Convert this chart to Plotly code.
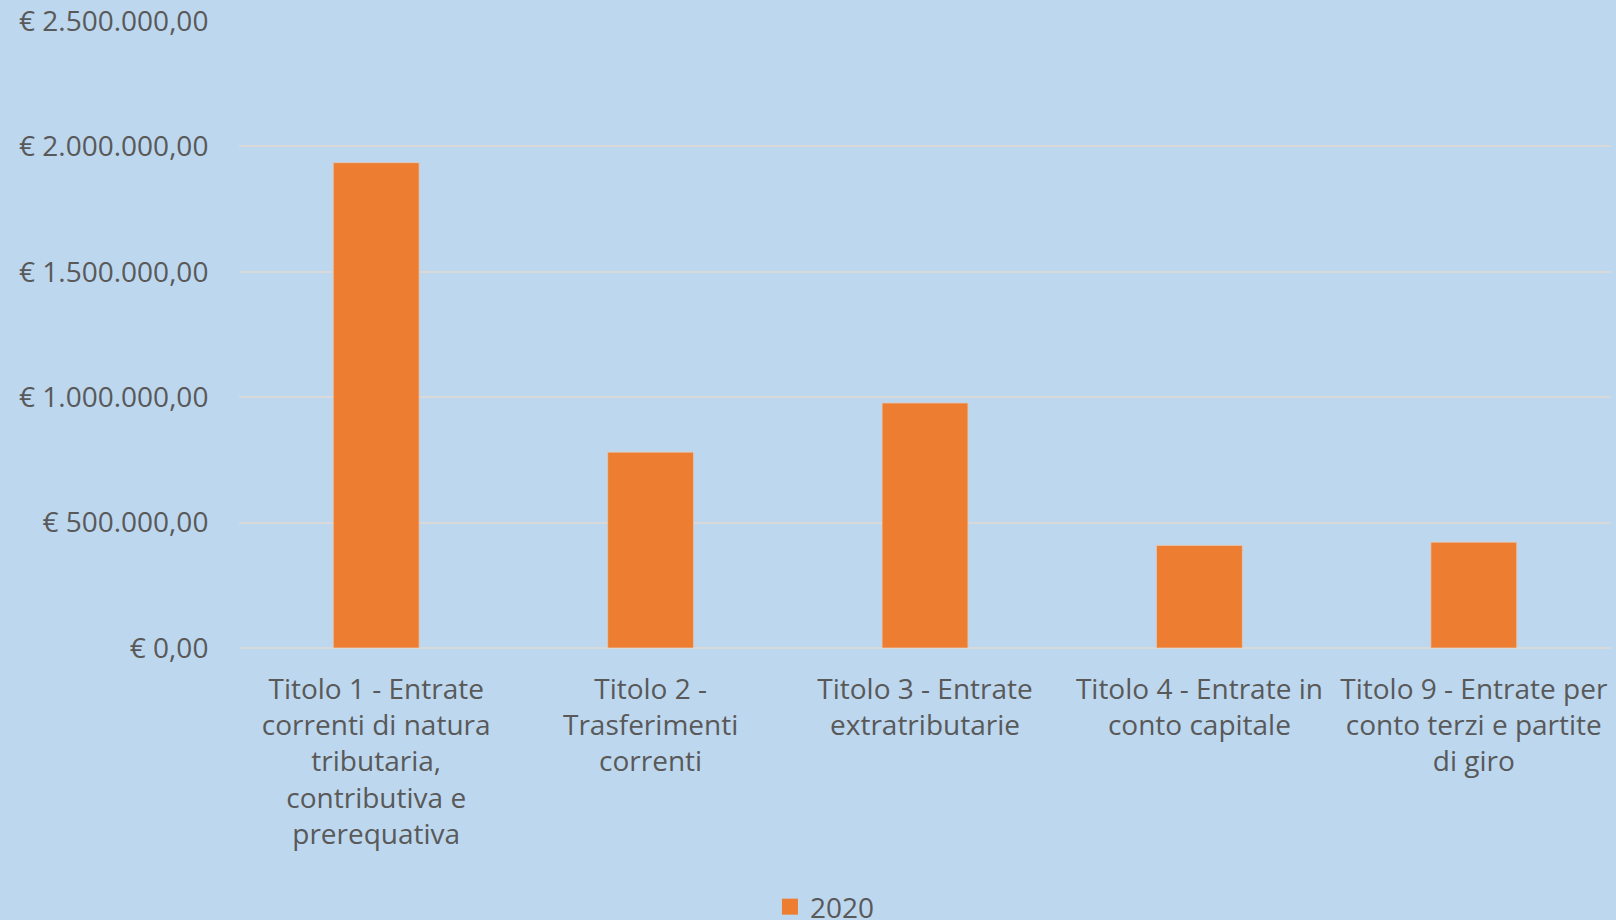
import plotly.graph_objects as go

categories = [
    "Titolo 1 - Entrate<br>correnti di natura<br>tributaria,<br>contributiva e<br>prerequativa",
    "Titolo 2 -<br>Trasferimenti<br>correnti",
    "Titolo 3 - Entrate<br>extratributarie",
    "Titolo 4 - Entrate in<br>conto capitale",
    "Titolo 9 - Entrate per<br>conto terzi e partite<br>di giro",
]
values_2020 = [1935000, 781000, 977000, 409000, 422000]
series_name = "2020"
y_tickvals = [0, 500000, 1000000, 1500000, 2000000, 2500000]
y_ticktext = ["€ 0,00", "€ 500.000,00", "€ 1.000.000,00",
              "€ 1.500.000,00", "€ 2.000.000,00", "€ 2.500.000,00"]

BG = "#bdd7ee"
BAR = "#ed7d31"
TXT = "#595959"
FONT = "Open Sans"

fig = go.Figure()
fig.add_trace(go.Bar(
    x=categories, y=values_2020, name=series_name,
    marker=dict(color=BAR, line=dict(color="rgba(230,200,180,0.8)", width=1)),
    showlegend=False,
))
# legend-only entry with a larger square swatch
fig.add_trace(go.Scatter(
    x=[None], y=[None], mode="markers", name=series_name,
    marker=dict(symbol="square", size=18, color=BAR),
    showlegend=True,
))

fig.update_layout(
    width=1616, height=920,
    paper_bgcolor=BG, plot_bgcolor=BG,
    margin=dict(l=239, r=5, t=21, b=272, autoexpand=False),
    bargap=0.687,
    font=dict(family=FONT, size=28, color=TXT),
    showlegend=True,
    legend=dict(
        orientation="h", x=0.387, xanchor="left", y=-0.413, yanchor="middle",
        font=dict(family=FONT, size=28, color=TXT),
        bgcolor="rgba(0,0,0,0)", itemwidth=30,
    ),
    xaxis=dict(
        showgrid=False, zeroline=False, showline=False,
        ticks="outside", ticklen=16, tickcolor="rgba(0,0,0,0)",
        tickfont=dict(family=FONT, size=28, color=TXT),
    ),
    yaxis=dict(
        range=[0, 2500000], tickvals=y_tickvals, ticktext=y_ticktext,
        showgrid=True, gridcolor="#d9d9d9", gridwidth=1.5,
        zeroline=True, zerolinecolor="#d9d9d9", zerolinewidth=1.5,
        showline=False,
        ticks="outside", ticklen=24, tickcolor="rgba(0,0,0,0)",
        tickfont=dict(family=FONT, size=28, color=TXT),
    ),
)

fig.write_html(
    "out.html",
    config={"displayModeBar": False},
    post_script="document.body.style.margin='0';document.body.style.overflow='hidden';",
)
